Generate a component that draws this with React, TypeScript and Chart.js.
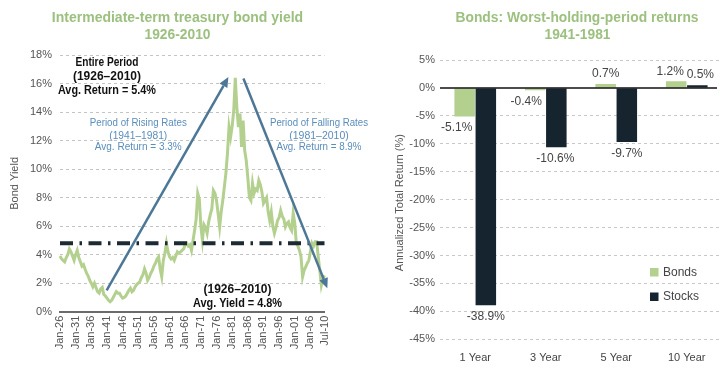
import React, { useEffect, useRef } from 'react';
import { Chart, registerables } from 'chart.js';

Chart.register(...registerables);

// ---------- Left chart data: intermediate-term treasury yield (semi-annual readings) ----------
const START_YEAR = 1926;
const END_YEAR = 2010;
const YIELD = [
  3.9, 3.7, 3.6, 3.5, 3.8, 4.0, 4.4, 4.2, 3.9, 3.6, // 1926-1930
  4.0, 4.3, 3.8, 3.5, 3.2, 3.3, 3.0, 2.7, 2.5, 2.2, // 1931-1935
  2.0, 1.75, 2.0, 1.7, 1.4, 1.3, 1.6, 1.7, 1.2, 1.1, // 1936-1940
  0.95, 0.8, 0.7, 0.8, 1.0, 1.2, 1.4, 1.3, 1.3, 1.1, // 1941-1945
  0.95, 1.0, 1.1, 1.3, 1.5, 1.65, 1.4, 1.5, 1.75, 1.9, // 1946-1950
  2.0, 2.1, 2.4, 2.6, 3.0, 2.7, 2.2, 2.4, 2.7, 2.9, // 1951-1955
  3.2, 3.4, 3.7, 3.85, 3.0, 2.45, 3.6, 4.1, 4.8, 4.2, // 1956-1960
  3.85, 3.7, 3.8, 3.6, 3.9, 4.2, 4.1, 4.2, 4.3, 4.4, // 1961-1965
  4.7, 4.8, 4.6, 4.7, 4.3, 5.0, 5.7, 6.5, 8.3, 7.9, // 1966-1970
  6.0, 5.0, 6.1, 5.9, 5.5, 6.3, 6.8, 7.2, 8.5, 8.3, // 1971-1975
  7.8, 6.9, 5.95, 7.0, 7.8, 8.75, 9.7, 11.1, 12.95, 12.25, // 1976-1980
  13.0, 14.1, 16.4, 14.3, 12.95, 13.9, 11.55, 13.4, 11.3, 10.6, // 1981-1985
  9.4, 8.0, 7.8, 9.0, 8.3, 8.6, 8.5, 9.2, 8.9, 8.4, // 1986-1990
  7.6, 7.8, 8.0, 7.0, 6.4, 7.0, 6.0, 5.5, 5.9, 6.4, // 1991-1995
  6.6, 7.1, 6.7, 6.5, 5.95, 6.2, 6.3, 5.9, 5.7, 6.9, // 1996-2000
  6.2, 4.8, 4.6, 4.3, 3.85, 2.45, 2.9, 3.15, 3.4, 3.6, // 2001-2005
  4.2, 4.8, 4.6, 4.9, 4.9, 3.85, 2.9, 1.85, 2.3, 2.55, // 2006-2010
];
const AVG_YIELD = 4.8;
const TICK_LABELS = [
  'Jan-26', 'Jan-31', 'Jan-36', 'Jan-41', 'Jan-46', 'Jan-51', 'Jan-56', 'Jan-61', 'Jan-66',
  'Jan-71', 'Jan-76', 'Jan-81', 'Jan-86', 'Jan-91', 'Jan-96', 'Jan-01', 'Jan-06', 'Jul-10',
];
const YIELD_MIN = 0;
const YIELD_MAX = 18;
const YIELD_STEP = 2;

// arrows in (year, yield %) coordinates
const RISING_ARROW = { from: [1940.9, 1.5], to: [1979.8, 16.45] };
const FALLING_ARROW = { from: [1984.6, 16.35], to: [2011.4, 1.65] };

// ---------- Right chart data ----------
const HOLDING_PERIODS = ['1 Year', '3 Year', '5 Year', '10 Year'];
const BOND_RETURNS = [-5.1, -0.4, 0.7, 1.2];
const STOCK_RETURNS = [-38.9, -10.6, -9.7, 0.5];
const RETURN_MIN = -45;
const RETURN_MAX = 5;
const RETURN_STEP = 5;

// ---------- styles ----------
const SANS = '"Liberation Sans", Arial, Helvetica, sans-serif';
const TITLE_GREEN = '#9cc07f';
const LINE_GREEN = '#b4d08f';
const BOND_GREEN = '#b3d08f';
const STOCK_NAVY = '#15242f';
const ARROW_BLUE = '#4d7796';
const NOTE_BLUE = '#5a8dbb';
const AXIS_TEXT = '#555555';

const PERIOD_LABELS: string[] = [];
for (let yr = START_YEAR; yr <= END_YEAR; yr++) {
  for (const m of ['Jan', 'Jul']) PERIOD_LABELS.push(`${m}-${String(yr % 100).padStart(2, '0')}`);
}

function drawText(ctx: CanvasRenderingContext2D, str: string, x: number, y: number, font: string, color: string, maxW?: number, align: CanvasTextAlign = 'center') {
  ctx.save();
  ctx.font = font;
  ctx.fillStyle = color;
  ctx.textAlign = align;
  ctx.textBaseline = 'middle';
  if (maxW) ctx.fillText(str, x, y, maxW);
  else ctx.fillText(str, x, y);
  ctx.restore();
}

function drawArrow(ctx: CanvasRenderingContext2D, x1: number, y1: number, x2: number, y2: number) {
  const ang = Math.atan2(y2 - y1, x2 - x1);
  const head = 10;
  const half = 4.5;
  const bx = x2 - head * Math.cos(ang);
  const by = y2 - head * Math.sin(ang);
  ctx.save();
  ctx.strokeStyle = ARROW_BLUE;
  ctx.fillStyle = ARROW_BLUE;
  ctx.lineWidth = 2.5;
  ctx.beginPath();
  ctx.moveTo(x1, y1);
  ctx.lineTo(bx, by);
  ctx.stroke();
  ctx.beginPath();
  ctx.moveTo(x2, y2);
  ctx.lineTo(bx + half * Math.sin(ang), by - half * Math.cos(ang));
  ctx.lineTo(bx - half * Math.sin(ang), by + half * Math.cos(ang));
  ctx.closePath();
  ctx.fill();
  ctx.restore();
}

const yieldOverlay = {
  id: 'yieldOverlay',
  afterDatasetsDraw(chart: any) {
    const { ctx, scales } = chart;
    const x = scales.x;
    const y = scales.y;
    const px = (yr: number) => x.getPixelForValue((yr - START_YEAR) * 2);
    const py = (v: number) => y.getPixelForValue(v);
    for (const a of [RISING_ARROW, FALLING_ARROW]) {
      drawArrow(ctx, px(a.from[0]), py(a.from[1]), px(a.to[0]), py(a.to[1]));
    }
    const bold = `bold 12px ${SANS}`;
    const blue = `10.5px ${SANS}`;
    drawText(ctx, 'Entire Period', px(1941), py(17.47), bold, '#111', 63);
    drawText(ctx, '(1926\u20132010)', px(1941), py(16.46), bold, '#111', 69);
    drawText(ctx, 'Avg. Return = 5.4%', px(1941), py(15.48), bold, '#111', 98);
    drawText(ctx, 'Period of Rising Rates', px(1951), py(13.19), blue, NOTE_BLUE, 97);
    drawText(ctx, '(1941\u20131981)', px(1951), py(12.32), blue, NOTE_BLUE, 58);
    drawText(ctx, 'Avg. Return = 3.3%', px(1951), py(11.55), blue, NOTE_BLUE, 87);
    drawText(ctx, 'Period of Falling Rates', px(2008.75), py(13.19), blue, NOTE_BLUE, 98);
    drawText(ctx, '(1981\u20132010)', px(2008.75), py(12.32), blue, NOTE_BLUE, 61);
    drawText(ctx, 'Avg. Return = 8.9%', px(2008.75), py(11.55), blue, NOTE_BLUE, 85);
    drawText(ctx, '(1926\u20132010)', px(1982.7), py(1.57), bold, '#111', 68);
    drawText(ctx, 'Avg. Yield = 4.8%', px(1982.7), py(0.54), bold, '#111', 89);
  },
  afterDraw(chart: any) {
    const { ctx, chartArea } = chart;
    ctx.save();
    ctx.font = `bold 14px ${SANS}`;
    ctx.fillStyle = TITLE_GREEN;
    ctx.textAlign = 'center';
    ctx.textBaseline = 'alphabetic';
    ctx.fillText('Intermediate-term treasury bond yield', 177.5, 21.7, 252);
    ctx.fillText('1926-2010', 177.5, 39.3, 66);
    ctx.restore();
    ctx.save();
    ctx.translate(15, (chartArea.top + chartArea.bottom) / 2);
    ctx.rotate(-Math.PI / 2);
    drawText(ctx, 'Bond Yield', 0, 0, `11px ${SANS}`, AXIS_TEXT);
    ctx.restore();
  },
};

const BAR_LABEL_NUDGE = [[-8, -9, 0, -6], [0, -1, 0, 3]];

const returnsOverlay = {
  id: 'returnsOverlay',
  afterDatasetsDraw(chart: any) {
    const { ctx, chartArea, scales } = chart;
    const y0 = scales.y.getPixelForValue(0);
    ctx.save();
    ctx.strokeStyle = '#111';
    ctx.lineWidth = 1.5;
    ctx.beginPath();
    ctx.moveTo(chartArea.left, y0);
    ctx.lineTo(chartArea.right - 5, y0);
    ctx.stroke();
    ctx.restore();
    chart.data.datasets.forEach((ds: any, di: number) => {
      const meta = chart.getDatasetMeta(di);
      meta.data.forEach((el: any, j: number) => {
        const v = ds.data[j];
        const ly = v < 0 ? el.y + 11.5 : el.y - 10;
        drawText(ctx, `${v.toFixed(1)}%`, el.x + BAR_LABEL_NUDGE[di][j], ly, `12px ${SANS}`, '#444');
      });
    });
  },
  afterDraw(chart: any) {
    const { ctx, chartArea } = chart;
    ctx.save();
    ctx.font = `bold 14px ${SANS}`;
    ctx.fillStyle = TITLE_GREEN;
    ctx.textAlign = 'center';
    ctx.textBaseline = 'alphabetic';
    ctx.fillText('Bonds: Worst-holding-period returns', 205, 21.7, 243);
    ctx.fillText('1941-1981', 205.5, 39.3, 66);
    ctx.restore();
    ctx.save();
    ctx.translate(28, (chartArea.top + chartArea.bottom) / 2 + 3);
    ctx.rotate(-Math.PI / 2);
    drawText(ctx, 'Annualized Total Return (%)', 0, 0, `11px ${SANS}`, AXIS_TEXT);
    ctx.restore();
    const lx = chartArea.left + 210;
    const ly = chartArea.top + 208;
    chart.data.datasets.forEach((ds: any, i: number) => {
      const top = ly + i * 24.5;
      ctx.save();
      ctx.fillStyle = ds.backgroundColor;
      ctx.fillRect(lx, top, 8.5, 8.5);
      ctx.restore();
      drawText(ctx, ds.label, lx + 13, top + 4.5, `12px ${SANS}`, '#444', undefined, 'left');
    });
  },
};

export default function App() {
  const leftRef = useRef<HTMLCanvasElement>(null);
  const rightRef = useRef<HTMLCanvasElement>(null);

  useEffect(() => {
    Chart.defaults.font.family = SANS;
    const left = new Chart(leftRef.current as HTMLCanvasElement, {
      type: 'line',
      data: {
        labels: PERIOD_LABELS,
        datasets: [
          {
            label: 'Average yield',
            data: PERIOD_LABELS.map(() => AVG_YIELD),
            borderColor: '#1b2a33',
            borderWidth: 4,
            borderDash: [13, 6.5, 2.5, 6.5],
            pointRadius: 0,
            order: 0,
          },
          {
            label: 'Bond yield',
            data: YIELD,
            borderColor: LINE_GREEN,
            borderWidth: 3,
            pointRadius: 0,
            tension: 0,
            order: 1,
          },
        ],
      },
      options: {
        animation: false,
        responsive: false,
        maintainAspectRatio: false,
        events: [],
        layout: { padding: { top: 55, right: 47.5, left: 0, bottom: 0 } },
        plugins: { legend: { display: false }, tooltip: { enabled: false }, title: { display: false } },
        scales: {
          x: {
            type: 'category',
            offset: false,
            grid: { display: false, drawTicks: false },
            border: { display: true, color: '#6b6b6b', width: 2 },
            ticks: {
              autoSkip: false,
              maxRotation: 90,
              minRotation: 90,
              padding: 4,
              color: AXIS_TEXT,
              font: { size: 11 },
              callback: (_v: any, i: number) => (TICK_LABELS.includes(PERIOD_LABELS[i]) ? PERIOD_LABELS[i] : null),
            },
            afterFit: (s: any) => { s.height = 58.3; },
          },
          y: {
            min: YIELD_MIN,
            max: YIELD_MAX,
            ticks: { stepSize: YIELD_STEP, padding: 8, color: AXIS_TEXT, font: { size: 11 }, callback: (v: any) => `${v}%` },
            grid: { color: '#c4c4c4', lineWidth: 1, drawTicks: false },
            border: { display: false, dash: [3, 3] },
            afterFit: (s: any) => { s.width = 60; },
          },
        },
      },
      plugins: [yieldOverlay],
    } as any);

    const right = new Chart(rightRef.current as HTMLCanvasElement, {
      type: 'bar',
      data: {
        labels: HOLDING_PERIODS,
        datasets: [
          { label: 'Bonds', data: BOND_RETURNS, backgroundColor: BOND_GREEN, categoryPercentage: 0.6, barPercentage: 0.97 },
          { label: 'Stocks', data: STOCK_RETURNS, backgroundColor: STOCK_NAVY, categoryPercentage: 0.6, barPercentage: 0.97 },
        ],
      },
      options: {
        animation: false,
        responsive: false,
        maintainAspectRatio: false,
        events: [],
        layout: { padding: { top: 60, right: 3, left: 0, bottom: 0 } },
        plugins: { legend: { display: false }, tooltip: { enabled: false }, title: { display: false } },
        scales: {
          x: {
            grid: { display: false, drawTicks: false },
            border: { display: false },
            ticks: { padding: 12, color: '#444', font: { size: 11 } },
            afterFit: (s: any) => { s.height = 30.7; },
          },
          y: {
            min: RETURN_MIN,
            max: RETURN_MAX,
            ticks: { stepSize: RETURN_STEP, padding: 5, color: AXIS_TEXT, font: { size: 11 }, callback: (v: any) => `${v}%` },
            grid: {
              color: (c: any) => (c.tick && c.tick.value === 0 ? 'rgba(0,0,0,0)' : '#c8c8c8'),
              lineWidth: 1,
              drawTicks: false,
            },
            border: { display: false, dash: [3, 3] },
            afterFit: (s: any) => { s.width = 68; },
          },
        },
      },
      plugins: [returnsOverlay],
    } as any);

    return () => {
      left.destroy();
      right.destroy();
    };
  }, []);

  return (
    <div style={{ position: 'absolute', left: 0, top: 0, width: 725, height: 370, background: '#fff', overflow: 'hidden' }}>
      <canvas ref={leftRef} width={372} height={370} style={{ position: 'absolute', left: 0, top: 0, width: 372, height: 370 }} />
      <canvas ref={rightRef} width={353} height={370} style={{ position: 'absolute', left: 372, top: 0, width: 353, height: 370 }} />
    </div>
  );
}
